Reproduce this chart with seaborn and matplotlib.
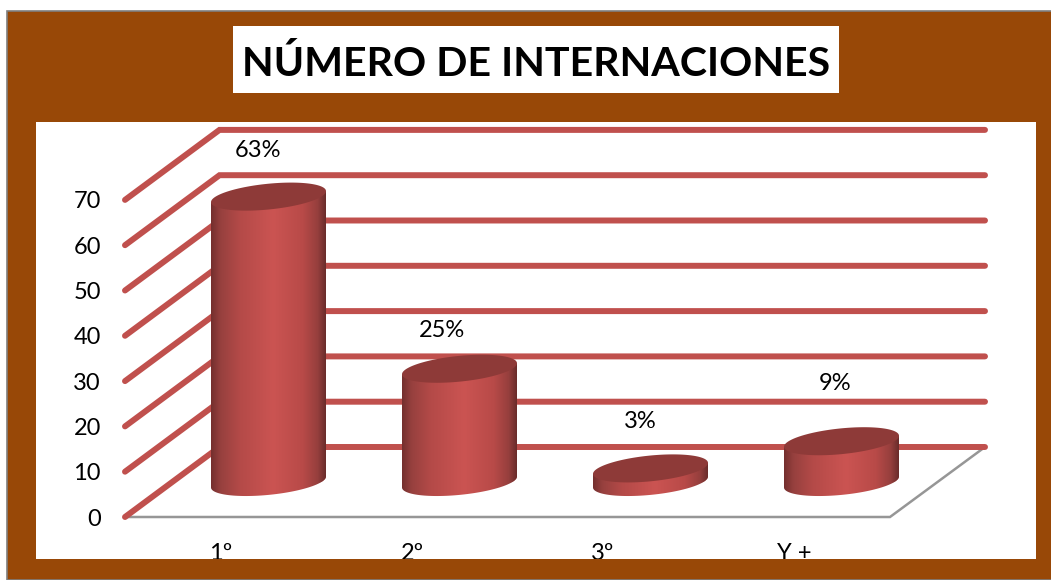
#!/usr/bin/env python3

import numpy as np
import seaborn as sns
import matplotlib.pyplot as plt
from matplotlib.colors import LinearSegmentedColormap
from matplotlib.patches import Polygon, Rectangle

categories = ['1º', '2º', '3º', 'Y +']
values = [63, 25, 3, 9]
y_ticks = [0, 10, 20, 30, 40, 50, 60, 70]
title = 'NÚMERO DE INTERNACIONES'

# offsets of the percent labels from the bar top, in pixels
label_dx = [-10, -17, -10, -6]
label_dy = [46, 38, 47, 58]

W, H = 1051, 580
PANEL = (36, 122, 1036, 559)
X0_PX, X_STEP = 268.5, 191.0
Y0_PX, Y_STEP = 517.0, 4.53
RED = '#C0504D'
BROWN = '#984807'
TOP = '#8E3A38'

sns.set_theme(style='white')
plt.rcParams['font.family'] = ['Lato', 'DejaVu Sans']

def px_x(px):
	return (px - X0_PX) / X_STEP

def px_y(px):
	return (Y0_PX - px) / Y_STEP

fig = plt.figure(figsize=(W / 100, H / 100), dpi=100, facecolor='white')
fig.add_artist(Rectangle((6.5 / W, 0), 1.1, 1 - 10.5 / H, transform=fig.transFigure,
	facecolor=BROWN, edgecolor='#7F7F7F', lw=1.2, zorder=-2))
fig.add_artist(Rectangle((233 / W, 1 - 93 / H), 606 / W, 67 / H, transform=fig.transFigure,
	facecolor='white', edgecolor='none', zorder=-1))
fig.text(536.5 / W, 1 - 63.5 / H, title, ha='center', va='center', fontsize=29.6,
	fontweight='bold', color='black')

ax = fig.add_axes([PANEL[0] / W, 1 - PANEL[3] / H, (PANEL[2] - PANEL[0]) / W, (PANEL[3] - PANEL[1]) / H])
ax.set_facecolor('white')

sns.barplot(x=categories, y=values, width=115 / X_STEP, color=RED, saturation=1, ax=ax, zorder=2)

# depth of the floor in data units
back_x = 93 / X_STEP
back_y = 70 / Y_STEP
mid_y = back_y / 2
left = px_x(125)
right_front = px_x(890)
right_back = px_x(985)

# back wall and side wall lines
for v in y_ticks:
	ax.plot([left, left + back_x + 1.5 / X_STEP, right_back], [v, v + back_y, v + back_y], color=RED, lw=4.3,
		solid_capstyle='round', solid_joinstyle='miter', zorder=1.5)
ax.plot([left, right_front, right_back], [0, 0, back_y], color='#969696', lw=1.8, zorder=1.4,
	solid_joinstyle='miter')

side_cmap = LinearSegmentedColormap.from_list('side', [
	(0.0, '#742F2E'), (0.08, '#96403E'), (0.25, '#B44A48'), (0.54, '#CB5452'),
	(0.8, '#B84A48'), (0.93, '#963F3D'), (1.0, '#6A2C2B')])
gradient = np.linspace(0, 1, 256).reshape(1, -1)
t = np.linspace(0, 2 * np.pi, 120)
shear = 5.5 / Y_STEP
minor = 12.9 / Y_STEP

for i, patch in enumerate(list(ax.patches)):
	x_c = patch.get_x() + patch.get_width() / 2
	half = patch.get_width() / 2
	y_low = patch.get_y() + mid_y
	y_top = y_low + patch.get_height()
	patch.set_y(y_low)
	ell_x = x_c + half * np.cos(t)
	ell_off = shear * np.cos(t) + minor * np.sin(t)
	# cylinder side: lower arc of the bottom ellipse and straight sides
	low_t = np.linspace(np.pi, 2 * np.pi, 60)
	low_x = x_c + half * np.cos(low_t)
	low_y = y_low + shear * np.cos(low_t) + minor * np.sin(low_t)
	side = np.column_stack([
		np.concatenate([low_x, [x_c + half, x_c - half]]),
		np.concatenate([low_y, [y_top + shear, y_top - shear]])])
	body = Polygon(side, closed=True, transform=ax.transData, facecolor='none', edgecolor='none')
	ax.add_patch(body)
	patch.set_clip_path(body)
	img = ax.imshow(gradient, cmap=side_cmap, aspect='auto', zorder=3,
		extent=[x_c - half, x_c + half, y_low - minor - shear, y_top + shear])
	img.set_clip_path(body)
	ax.add_patch(Polygon(np.column_stack([ell_x, y_top + ell_off]), closed=True, facecolor=TOP,
		edgecolor='none', zorder=4))
	ax.annotate(f'{values[i]}%', (x_c, y_top), xytext=(label_dx[i] * 0.72, label_dy[i] * 0.72),
		textcoords='offset points', ha='center', va='center', fontsize=17, color='black', zorder=5)

ax.set_xlim(px_x(PANEL[0]), px_x(PANEL[2]))
ax.set_ylim(px_y(PANEL[3]), px_y(PANEL[1]))

ax.set_yticks(y_ticks)
ax.set_yticklabels([str(v) for v in y_ticks])
ax.tick_params(axis='y', length=0, pad=-46.8, labelsize=17, labelcolor='black')
ax.set_xticks([i - 47.5 / X_STEP for i in range(len(categories))])
ax.set_xticklabels(categories)
ax.tick_params(axis='x', length=0, pad=-11.5, labelsize=17, labelcolor='black')
for lab in ax.get_xticklabels():
	lab.set_clip_on(True)
	lab.set_clip_box(ax.bbox)
ax.set_xlabel('')
ax.set_ylabel('')
sns.despine(ax=ax, left=True, bottom=True)

fig.savefig('out.png', dpi=100, facecolor=fig.get_facecolor())
